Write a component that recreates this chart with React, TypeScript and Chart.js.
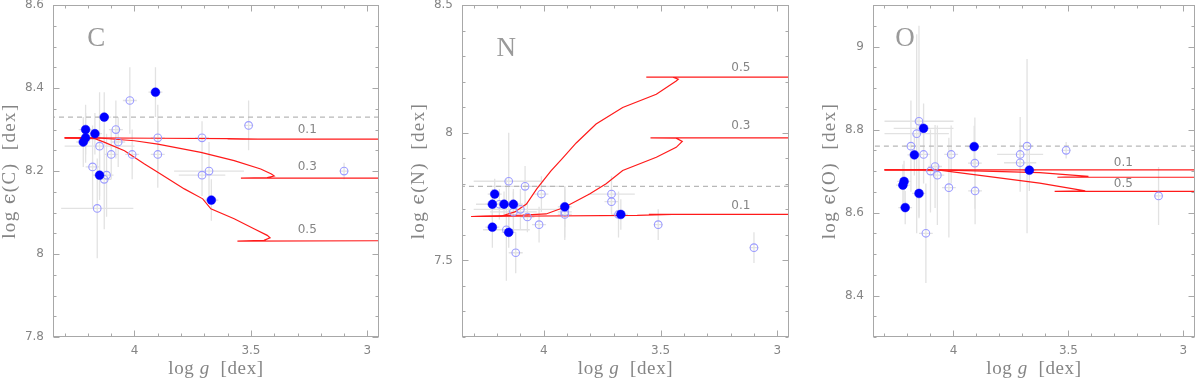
import React, { useEffect, useRef } from "react";
import { Chart, registerables } from "chart.js";
Chart.register(...registerables);

// ---------- shared x axis (log g, reversed) ----------
const X_MIN = 2.95;
const X_MAX = 4.35;
const X_TICKS = [4, 3.5, 3];
const X_TICK_LABELS = ["4", "3.5", "3"];

// ---------- Panel C ----------
const C_Y_TICKS = [7.8, 8, 8.2, 8.4, 8.6];
const C_Y_TICK_LABELS = ["7.8", "8", "8.2", "8.4", "8.6"];
const C_SOLAR = 8.33;
const C_FILLED_G = [4.21, 4.21, 4.22, 4.17, 4.13, 3.91, 4.15, 3.67];
const C_FILLED_E = [8.30, 8.28, 8.27, 8.29, 8.33, 8.39, 8.19, 8.13];
const C_FILLED_GERR = [0.03, 0.03, 0.03, 0.03, 0.03, 0.03, 0.03, 0.03];
const C_FILLED_EERR = [0.06, 0.06, 0.06, 0.05, 0.06, 0.06, 0.05, 0.05];
const C_OPEN_G = [4.02, 4.08, 4.07, 4.15, 4.10, 4.01, 3.90, 3.90, 4.18, 4.12, 4.13, 3.71, 3.71, 3.68, 3.51, 3.10, 4.16];
const C_OPEN_E = [8.37, 8.30, 8.27, 8.26, 8.24, 8.24, 8.28, 8.24, 8.21, 8.19, 8.18, 8.28, 8.19, 8.20, 8.31, 8.20, 8.11];
const C_OPEN_GERR = [0.03, 0.03, 0.03, 0.15, 0.03, 0.03, 0.03, 0.03, 0.03, 0.03, 0.03, 0.03, 0.10, 0.15, 0.02, 0.02, 0.155];
const C_OPEN_EERR = [0.08, 0.07, 0.06, 0.13, 0.06, 0.06, 0.08, 0.08, 0.10, 0.10, 0.12, 0.04, 0.05, 0.07, 0.06, 0.02, 0.12];
const C_M01_G = [4.30, 4.20, 3.90, 3.60, 3.47, 3.60, 2.95];
const C_M01_E = [8.280, 8.280, 8.279, 8.278, 8.277, 8.277, 8.277];
const C_M03_G = [4.30, 4.17, 4.14, 4.00, 3.90, 3.715, 3.572, 3.458, 3.412, 3.40, 3.43, 3.543, 2.95];
const C_M03_E = [8.280, 8.280, 8.279, 8.273, 8.265, 8.245, 8.225, 8.205, 8.193, 8.188, 8.184, 8.183, 8.183];
const C_M05_G = [4.30, 4.17, 4.128, 4.043, 3.957, 3.90, 3.786, 3.707, 3.672, 3.572, 3.487, 3.43, 3.418, 3.444, 3.558, 2.95];
const C_M05_E = [8.280, 8.278, 8.269, 8.249, 8.217, 8.197, 8.157, 8.133, 8.109, 8.085, 8.061, 8.045, 8.039, 8.033, 8.031, 8.032];
const C_MODEL_LABELS = ["0.1", "0.3", "0.5"];
const C_MODEL_LABEL_G = [3.258, 3.258, 3.258];
const C_MODEL_LABEL_E = [8.30, 8.209, 8.059];

// ---------- Panel N ----------
const N_Y_TICKS = [7.5, 8, 8.5];
const N_Y_TICK_LABELS = ["7.5", "8", "8.5"];
const N_SOLAR = 7.79;
const N_FILLED_G = [4.21, 4.22, 4.17, 4.13, 4.22, 4.15, 3.91, 3.67];
const N_FILLED_E = [7.76, 7.72, 7.72, 7.72, 7.63, 7.61, 7.71, 7.68];
const N_FILLED_GERR = [0.03, 0.03, 0.03, 0.03, 0.03, 0.03, 0.03, 0.03];
const N_FILLED_EERR = [0.06, 0.06, 0.05, 0.06, 0.08, 0.06, 0.08, 0.06];
const N_OPEN_G = [4.15, 4.08, 4.01, 4.19, 4.13, 4.10, 4.07, 4.02, 4.16, 4.12, 3.91, 3.91, 3.71, 3.71, 3.68, 3.51, 3.10];
const N_OPEN_E = [7.81, 7.79, 7.76, 7.72, 7.69, 7.70, 7.67, 7.64, 7.62, 7.53, 7.69, 7.68, 7.76, 7.73, 7.68, 7.64, 7.55];
const N_OPEN_GERR = [0.15, 0.15, 0.03, 0.10, 0.10, 0.20, 0.03, 0.03, 0.10, 0.03, 0.03, 0.03, 0.10, 0.03, 0.03, 0.02, 0.02];
const N_OPEN_EERR = [0.19, 0.08, 0.07, 0.06, 0.08, 0.08, 0.06, 0.07, 0.20, 0.08, 0.10, 0.10, 0.07, 0.05, 0.09, 0.06, 0.06];
const N_M01_G = [4.31, 3.60, 3.45, 3.55, 2.95];
const N_M01_E = [7.672, 7.676, 7.680, 7.680, 7.680];
const N_M03_G = [4.31, 4.09, 3.99, 3.911, 3.804, 3.733, 3.662, 3.518, 3.433, 3.407, 3.433, 3.543, 2.95];
const N_M03_E = [7.672, 7.677, 7.682, 7.708, 7.760, 7.800, 7.852, 7.904, 7.943, 7.966, 7.979, 7.980, 7.980];
const N_M05_G = [4.31, 4.18, 4.124, 4.074, 4.03, 3.97, 3.92, 3.861, 3.776, 3.662, 3.518, 3.433, 3.424, 3.447, 3.561, 2.95];
const N_M05_E = [7.672, 7.674, 7.690, 7.721, 7.780, 7.850, 7.900, 7.960, 8.034, 8.099, 8.151, 8.203, 8.210, 8.218, 8.218, 8.218];
const N_MODEL_LABELS = ["0.5", "0.3", "0.1"];
const N_MODEL_LABEL_G = [3.156, 3.156, 3.156];
const N_MODEL_LABEL_E = [8.255, 8.025, 7.715];

// ---------- Panel O ----------
const O_Y_TICKS = [8.4, 8.6, 8.8, 9];
const O_Y_TICK_LABELS = ["8.4", "8.6", "8.8", "9"];
const O_SOLAR = 8.76;
const O_FILLED_G = [4.13, 4.17, 3.91, 3.67, 4.215, 4.22, 4.15, 4.21];
const O_FILLED_E = [8.803, 8.739, 8.759, 8.702, 8.675, 8.666, 8.646, 8.612];
const O_FILLED_GERR = [0.13, 0.03, 0.03, 0.03, 0.03, 0.03, 0.03, 0.03];
const O_FILLED_EERR = [0.06, 0.05, 0.05, 0.05, 0.05, 0.05, 0.06, 0.04];
const O_OPEN_G = [4.15, 4.16, 4.185, 4.13, 4.01, 3.907, 3.71, 3.71, 3.68, 3.51, 4.08, 4.10, 4.07, 4.02, 3.906, 4.12, 3.108];
const O_OPEN_E = [8.82, 8.79, 8.76, 8.74, 8.74, 8.719, 8.74, 8.72, 8.76, 8.75, 8.711, 8.70, 8.69, 8.66, 8.652, 8.55, 8.64];
const O_OPEN_GERR = [0.15, 0.14, 0.03, 0.03, 0.03, 0.03, 0.10, 0.07, 0.03, 0.02, 0.03, 0.03, 0.03, 0.03, 0.03, 0.03, 0.02];
const O_OPEN_EERR = [0.23, 0.24, 0.11, 0.07, 0.07, 0.11, 0.09, 0.05, 0.21, 0.02, 0.10, 0.10, 0.12, 0.12, 0.08, 0.12, 0.07];
const O_M01_G = [4.30, 2.95];
const O_M01_E = [8.703, 8.703];
const O_M03_G = [4.30, 4.07, 3.625, 3.413, 3.548, 2.95];
const O_M03_E = [8.703, 8.703, 8.696, 8.687, 8.685, 8.685];
const O_M05_G = [4.30, 4.07, 3.625, 3.427, 3.56, 2.95];
const O_M05_E = [8.703, 8.703, 8.671, 8.652, 8.651, 8.651];
const O_MODEL_LABELS = ["0.1", "0.5"];
const O_MODEL_LABEL_G = [3.261, 3.261];
const O_MODEL_LABEL_E = [8.719, 8.670];

// ---------- styles ----------
const FRAME = "#a8a8a8";
const TEXT = "#858585";
const ERR = "#e2e2e2";
const RED = "#ff1a1a";
const OPEN = "#9c9cff";
const FILL = "#0000ff";
const TICK_FONT = '12px "DejaVu Sans"';
const SERIF = '"Liberation Serif"';

interface Panel {
  key: string;
  left: number;
  width: number;
  yWidth: number;
  padRight: number;
  yMin: number;
  yMax: number;
  yTicks: number[];
  yTickLabels: string[];
  yMinor: number;
  element: string;
  letterG: number;
  letterE: number;
  solar: number;
  models: { g: number[]; e: number[] }[];
  labels: string[];
  labelG: number[];
  labelE: number[];
  filled: { g: number[]; e: number[]; ge: number[]; ee: number[] };
  open: { g: number[]; e: number[]; ge: number[]; ee: number[] };
}

const PANELS: Panel[] = [
  {
    key: "C", left: 0, width: 390, yWidth: 53, padRight: 11,
    yMin: 7.8, yMax: 8.6, yTicks: C_Y_TICKS, yTickLabels: C_Y_TICK_LABELS, yMinor: 0.05,
    element: "C", letterG: 4.164, letterE: 8.518, solar: C_SOLAR,
    models: [{ g: C_M01_G, e: C_M01_E }, { g: C_M03_G, e: C_M03_E }, { g: C_M05_G, e: C_M05_E }],
    labels: C_MODEL_LABELS, labelG: C_MODEL_LABEL_G, labelE: C_MODEL_LABEL_E,
    filled: { g: C_FILLED_G, e: C_FILLED_E, ge: C_FILLED_GERR, ee: C_FILLED_EERR },
    open: { g: C_OPEN_G, e: C_OPEN_E, ge: C_OPEN_GERR, ee: C_OPEN_EERR },
  },
  {
    key: "N", left: 390, width: 410, yWidth: 72, padRight: 11,
    yMin: 7.2, yMax: 8.5, yTicks: N_Y_TICKS, yTickLabels: N_Y_TICK_LABELS, yMinor: 0.1,
    element: "N", letterG: 4.161, letterE: 8.327, solar: N_SOLAR,
    models: [{ g: N_M01_G, e: N_M01_E }, { g: N_M03_G, e: N_M03_E }, { g: N_M05_G, e: N_M05_E }],
    labels: N_MODEL_LABELS, labelG: N_MODEL_LABEL_G, labelE: N_MODEL_LABEL_E,
    filled: { g: N_FILLED_G, e: N_FILLED_E, ge: N_FILLED_GERR, ee: N_FILLED_EERR },
    open: { g: N_OPEN_G, e: N_OPEN_E, ge: N_OPEN_GERR, ee: N_OPEN_EERR },
  },
  {
    key: "O", left: 800, width: 400, yWidth: 73, padRight: 1,
    yMin: 8.3, yMax: 9.1, yTicks: O_Y_TICKS, yTickLabels: O_Y_TICK_LABELS, yMinor: 0.05,
    element: "O", letterG: 4.211, letterE: 9.018, solar: O_SOLAR,
    models: [{ g: O_M01_G, e: O_M01_E }, { g: O_M03_G, e: O_M03_E }, { g: O_M05_G, e: O_M05_E }],
    labels: O_MODEL_LABELS, labelG: O_MODEL_LABEL_G, labelE: O_MODEL_LABEL_E,
    filled: { g: O_FILLED_G, e: O_FILLED_E, ge: O_FILLED_GERR, ee: O_FILLED_EERR },
    open: { g: O_OPEN_G, e: O_OPEN_E, ge: O_OPEN_GERR, ee: O_OPEN_EERR },
  },
];

function minorValues(min: number, max: number, step: number): number[] {
  const out: number[] = [];
  const n = Math.round((max - min) / step);
  for (let i = 0; i <= n; i++) out.push(Math.round((min + i * step) * 1000) / 1000);
  return out;
}

function drawSegments(ctx: any, segs: { t: string; font: string }[], x: number, y: number, spacing: number) {
  ctx.letterSpacing = spacing + "px";
  let total = 0;
  for (const s of segs) { ctx.font = s.font; total += ctx.measureText(s.t).width; }
  let cx = x - total / 2;
  ctx.textAlign = "left";
  for (const s of segs) { ctx.font = s.font; ctx.fillText(s.t, cx, y); cx += ctx.measureText(s.t).width; }
  ctx.letterSpacing = "0px";
}

function makeDecor(p: Panel) {
  return {
    id: "decor" + p.key,
    beforeDatasetsDraw(chart: any) {
      const { ctx, chartArea: ca } = chart;
      const xs = chart.scales.x, ys = chart.scales.y;
      ctx.save();
      ctx.beginPath();
      ctx.rect(ca.left, ca.top, ca.right - ca.left, ca.bottom - ca.top);
      ctx.clip();
      ctx.strokeStyle = ERR;
      ctx.lineWidth = 1.3;
      const bars = (s: { g: number[]; e: number[]; ge: number[]; ee: number[] }) => {
        for (let i = 0; i < s.g.length; i++) {
          const px = xs.getPixelForValue(s.g[i]);
          const py = ys.getPixelForValue(s.e[i]);
          ctx.beginPath();
          ctx.moveTo(xs.getPixelForValue(s.g[i] - s.ge[i]), py);
          ctx.lineTo(xs.getPixelForValue(s.g[i] + s.ge[i]), py);
          ctx.moveTo(px, ys.getPixelForValue(s.e[i] - s.ee[i]));
          ctx.lineTo(px, ys.getPixelForValue(s.e[i] + s.ee[i]));
          ctx.stroke();
        }
      };
      bars(p.open);
      bars(p.filled);
      ctx.restore();
    },
    afterDatasetsDraw(chart: any) {
      const { ctx, chartArea: ca } = chart;
      const xs = chart.scales.x, ys = chart.scales.y;
      ctx.save();
      // frame
      ctx.strokeStyle = FRAME;
      ctx.lineWidth = 1;
      const L = Math.round(ca.left) + 0.5, R = Math.round(ca.right) - 0.5;
      const T = Math.round(ca.top) + 0.5, B = Math.round(ca.bottom) - 0.5;
      ctx.strokeRect(L, T, R - L, B - T);
      // x ticks (bottom & top)
      const xMinor = minorValues(3.0, 4.3, 0.1);
      ctx.beginPath();
      for (const v of xMinor) {
        const major = X_TICKS.some((m) => Math.abs(m - v) < 1e-6);
        const len = major ? 6 : 3;
        const px = Math.round(xs.getPixelForValue(v)) + 0.5;
        ctx.moveTo(px, B); ctx.lineTo(px, B - len);
        ctx.moveTo(px, T); ctx.lineTo(px, T + len);
      }
      const yMinor = minorValues(p.yMin, p.yMax, p.yMinor);
      for (const v of yMinor) {
        const major = p.yTicks.some((m) => Math.abs(m - v) < 1e-6);
        const len = major ? 6 : 3;
        const py = Math.round(ys.getPixelForValue(v)) + 0.5;
        ctx.moveTo(L, py); ctx.lineTo(L + len, py);
        ctx.moveTo(R, py); ctx.lineTo(R - len, py);
      }
      ctx.stroke();
      // model labels
      ctx.fillStyle = TEXT;
      ctx.font = TICK_FONT;
      ctx.textAlign = "center";
      ctx.textBaseline = "middle";
      for (let i = 0; i < p.labels.length; i++) {
        ctx.fillText(p.labels[i], xs.getPixelForValue(p.labelG[i]), ys.getPixelForValue(p.labelE[i]));
      }
      // element letter
      ctx.fillStyle = "#9a9a9a";
      ctx.font = "27px " + SERIF;
      ctx.fillText(p.element, xs.getPixelForValue(p.letterG), ys.getPixelForValue(p.letterE));
      // x title
      ctx.fillStyle = TEXT;
      ctx.textBaseline = "alphabetic";
      drawSegments(ctx, [
        { t: "log ", font: "19px " + SERIF },
        { t: "g", font: "italic 19px " + SERIF },
        { t: "  [dex]", font: "19px " + SERIF },
      ], (ca.left + ca.right) / 2, 374, 0.6);
      // y title
      ctx.save();
      ctx.translate(ca.left - 43, (ca.top + ca.bottom) / 2);
      ctx.rotate(-Math.PI / 2);
      ctx.textBaseline = "middle";
      drawSegments(ctx, [
        { t: "log ", font: "19px " + SERIF },
        { t: "\u03f5", font: '19px "DejaVu Serif"' },
        { t: "(" + p.element + ")  [dex]", font: "19px " + SERIF },
      ], 0, 0, 1.4);
      ctx.restore();
      ctx.restore();
    },
  };
}

function buildChart(canvas: HTMLCanvasElement, p: Panel) {
  const toPts = (g: number[], e: number[]) => g.map((v, i) => ({ x: v, y: e[i] }));
  const datasets: any[] = [];
  datasets.push({
    data: [{ x: X_MIN, y: p.solar }, { x: X_MAX, y: p.solar }],
    showLine: true, borderColor: "#b8b8b8", borderWidth: 1.2, borderDash: [5, 4],
    pointRadius: 0, order: 10,
  });
  for (const m of p.models) {
    datasets.push({
      data: toPts(m.g, m.e), showLine: true, borderColor: RED, borderWidth: 1.2,
      pointRadius: 0, order: 6, tension: 0,
    });
  }
  datasets.push({
    data: toPts(p.open.g, p.open.e), showLine: false, pointRadius: 3.8,
    pointBackgroundColor: "rgba(0,0,0,0)", pointBorderColor: OPEN, pointBorderWidth: 1.1, order: 3,
  });
  datasets.push({
    data: toPts(p.filled.g, p.filled.e), showLine: false, pointRadius: 4.4,
    pointBackgroundColor: FILL, pointBorderColor: FILL, pointBorderWidth: 0.5, order: 1,
  });

  return new Chart(canvas, {
    type: "scatter",
    data: { datasets },
    plugins: [makeDecor(p)],
    options: {
      responsive: false,
      animation: false,
      events: [],
      layout: { padding: { left: 0, top: 5, right: p.padRight, bottom: 0 } },
      plugins: { legend: { display: false }, tooltip: { enabled: false } },
      scales: {
        x: {
          type: "linear", min: X_MIN, max: X_MAX, reverse: true,
          afterBuildTicks: (s: any) => { s.ticks = X_TICKS.map((v) => ({ value: v })); },
          afterFit: (s: any) => { s.height = 41; s.paddingLeft = 0; s.paddingRight = 0; },
          grid: { display: false, drawTicks: false },
          border: { display: false },
          ticks: {
            autoSkip: false, maxRotation: 0, padding: 7, color: TEXT,
            font: { family: "DejaVu Sans", size: 12 },
            callback: (v: any) => X_TICK_LABELS[X_TICKS.indexOf(Number(v))] ?? "",
          },
        },
        y: {
          type: "linear", min: p.yMin, max: p.yMax,
          afterBuildTicks: (s: any) => { s.ticks = p.yTicks.map((v) => ({ value: v })); },
          afterFit: (s: any) => { s.width = p.yWidth; s.paddingTop = 0; s.paddingBottom = 0; },
          grid: { display: false, drawTicks: false },
          border: { display: false },
          ticks: {
            autoSkip: false, padding: 9, color: TEXT,
            font: { family: "DejaVu Sans", size: 12 },
            callback: (v: any) => p.yTickLabels[p.yTicks.indexOf(Number(v))] ?? "",
          },
        },
      },
    } as any,
  });
}

function PanelChart({ p }: { p: Panel }) {
  const ref = useRef<HTMLCanvasElement>(null);
  useEffect(() => {
    if (!ref.current) return;
    const c = buildChart(ref.current, p);
    return () => c.destroy();
  }, [p]);
  return (
    <canvas
      ref={ref}
      width={p.width}
      height={378}
      style={{ position: "absolute", left: p.left, top: 0, width: p.width, height: 378 }}
    />
  );
}

export default function App() {
  return (
    <div style={{ position: "absolute", left: 0, top: 0, width: 1200, height: 378, background: "#fff", overflow: "hidden" }}>
      {PANELS.map((p) => (
        <PanelChart key={p.key} p={p} />
      ))}
    </div>
  );
}
